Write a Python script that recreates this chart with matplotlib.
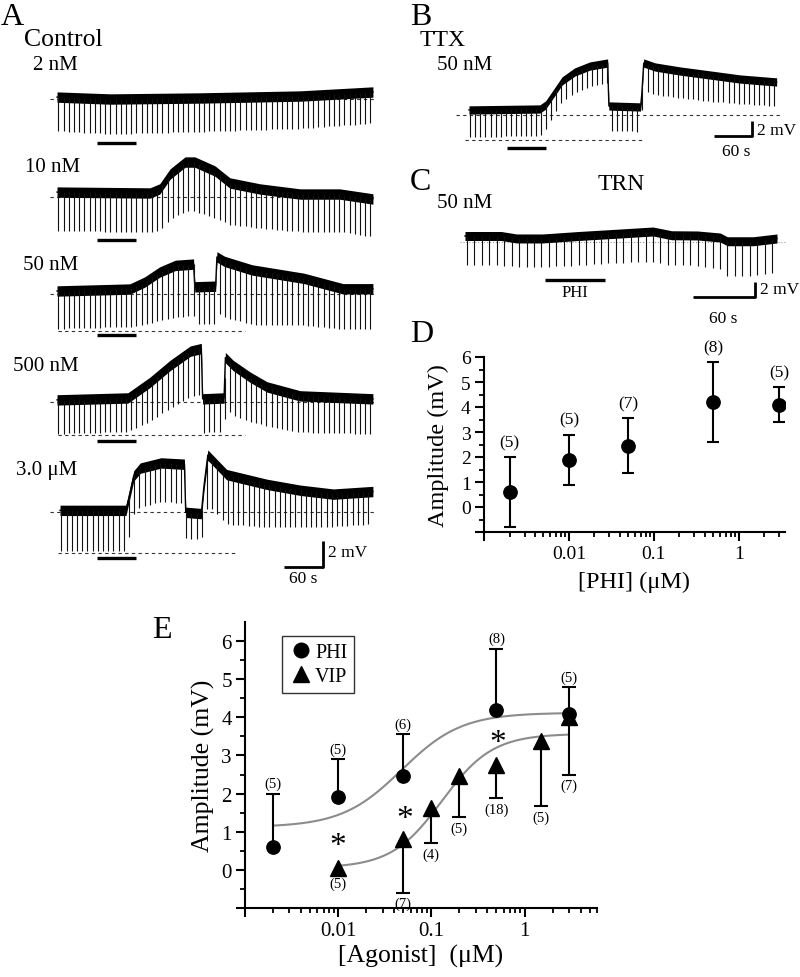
import numpy as np
import matplotlib
matplotlib.use("Agg")
import matplotlib.pyplot as plt
from matplotlib.lines import Line2D
from matplotlib.ticker import FixedLocator, LogLocator, NullFormatter

plt.rcParams['font.family'] = ['Liberation Serif', 'DejaVu Serif']

# ==========================
# 1. values
# ==========================

# A: control traces -> time (s), level above rest (mV), pulse depth (mV)
t_2nm = [0, 82, 220, 374, 486]
v_2nm = [0.15, 0.0, 0.08, 0.23, 0.54]
d_2nm = [2.6, 2.7, 2.6, 2.5, 2.4]

t_10nm = [0, 143, 158, 174, 197, 212, 243, 266, 312, 374, 435, 486]
v_10nm = [0.38, 0.31, 0.62, 1.77, 2.69, 2.69, 2.0, 1.08, 0.62, 0.23, 0.23, -0.15]
d_10nm = [3.0, 3.0, 3.2, 3.5, 3.8, 3.8, 3.6, 3.2, 3.0, 2.9, 2.9, 2.9]

t_50nm = [0, 112, 135, 158, 182, 210, 212, 244, 246, 258, 300, 380, 440, 486]
v_50nm = [0.23, 0.38, 0.92, 1.69, 2.2, 2.3, 0.55, 0.6, 2.85, 2.5, 1.85, 1.2, 0.4, 0.4]
d_50nm = [2.9, 2.9, 3.3, 3.7, 4.0, 4.0, 2.9, 2.9, 4.3, 4.3, 4.2, 3.6, 3.1, 3.1]

t_500nm = [0, 109, 143, 174, 205, 222, 224, 257, 259, 271, 297, 323, 374, 486]
v_500nm = [0.15, 0.3, 1.5, 2.8, 3.9, 4.1, 0.23, 0.3, 3.4, 2.8, 1.9, 1.15, 0.46, 0.23]
d_500nm = [2.6, 2.6, 3.0, 3.3, 3.5, 3.5, 2.6, 2.6, 3.8, 3.8, 3.4, 3.0, 2.8, 2.7]

t_3um = [4.6, 106, 110, 118, 128, 160, 196, 198, 222, 226, 232, 261, 323, 374, 425, 486]
v_3um = [0.15, 0.15, 1.0, 2.8, 3.4, 3.8, 3.7, 0.0, -0.1, 2.0, 4.4, 2.9, 2.15, 1.7, 1.4, 1.6]
d_3um = [3.1, 3.1, 3.0, 3.0, 3.0, 3.0, 3.0, 2.0, 2.0, 3.0, 3.8, 3.8, 3.3, 2.8, 2.5, 2.5]

a_labels = ['2 nM', '10 nM', '50 nM', '500 nM', '3.0 μM']

# B: TTX, 50 nM
t_ttx = [0, 112, 121, 133, 147, 167, 191, 219, 221, 271, 273, 276, 294, 333, 381, 428, 486]
v_ttx = [0.67, 0.8, 1.33, 2.8, 4.53, 5.73, 6.53, 6.93, 1.2, 1.07, 2.8, 6.93, 6.4, 5.87, 5.33, 4.8, 4.4]
d_ttx = [3.6, 3.6, 3.4, 3.0, 2.8, 2.7, 2.7, 2.7, 3.3, 3.3, 3.5, 3.7, 3.7, 3.6, 3.5, 3.3, 3.2]

# C: TRN, 50 nM
t_trn = [0, 35, 50, 75, 110, 150, 182, 200, 225, 247, 254, 279, 302]
v_trn = [0.8, 0.8, 0.47, 0.47, 0.8, 1.13, 1.4, 0.9, 0.87, 0.6, 0.1, 0.1, 0.47]
d_trn = [3.9, 3.9, 3.8, 3.8, 3.9, 3.9, 4.0, 4.0, 4.0, 4.2, 4.6, 4.6, 4.5]

# drug application bars (s)
bar_a = [61, 122]
bar_ttx = [60, 121]
bar_trn = [77, 136]

# D / E: dose response
phi_x = [0.002, 0.01, 0.05, 0.5, 3.0]
phi_mean = [0.6, 1.9, 2.45, 4.2, 4.1]
phi_sem = [1.4, 1.0, 1.1, 1.6, 0.7]
phi_n_d = ['(5)', '(5)', '(7)', '(8)', '(5)']
phi_n_e = ['(5)', '(5)', '(6)', '(8)', '(5)']

vip_x = [0.01, 0.05, 0.1, 0.2, 0.5, 1.5, 3.0]
vip_mean = [0.05, 0.82, 1.63, 2.47, 2.74, 3.39, 4.0]
vip_sem = [0.0, 1.42, 0.92, 1.08, 0.85, 1.71, 1.5]
vip_n = ['(5)', '(7)', '(4)', '(5)', '(18)', '(5)', '(7)']

# Hill fits: bottom, top, EC50 (uM), slope
phi_fit = [1.12, 4.12, 0.048, 1.35]
vip_fit = [0.05, 3.57, 0.13, 1.6]

# significance marks
star_x = [0.01, 0.052, 0.51]
star_y = [0.84, 1.55, 3.53]

# ==========================
# 2. layout helpers (pixel boxes on an 800x978 canvas)
# ==========================

W, H = 800, 978
fig = plt.figure(figsize=(8, 9.78), dpi=100)


def box(l, t, r, b):
    return [l / W, 1 - b / H, (r - l) / W, (b - t) / H]


def ftext(x, y, s, size, ha='left', va='center'):
    fig.text(x / W, 1 - y / H, s, fontsize=size, ha=ha, va=va)


def draw_trace(ax, t, v, d, off, noise, period):
    t = np.asarray(t, float)
    v = np.asarray(v, float) + off
    ax.fill_between(t, v - noise, v + noise, color='black', lw=0, zorder=3)
    ax.plot(t, v, color='black', lw=1.0, zorder=3)
    pulses = np.arange(t[0] + 2, t[-1], period)
    top = np.interp(pulses, t, v)
    depth = np.interp(pulses, t, d)
    ax.vlines(pulses, top - depth, top, color='#111111', lw=0.8, zorder=3)


def scale_bar(ax, x_end, y0, dx, dy, tx, ty, sx, sy):
    ax.plot([x_end - dx, x_end, x_end], [y0, y0, y0 + dy],
            color='black', lw=2, solid_capstyle='butt', clip_on=False)
    ax.text(tx, ty, '2 mV', fontsize=12.5, va='center', ha='left')
    ax.text(sx, sy, '60 s', fontsize=12.5, va='center', ha='center')


# ==========================
# 3. panel A
# ==========================

axA = fig.add_axes(box(45, 60, 380, 590))
axA.set_xlim(-18.5, 496.9)
axA.set_ylim(-37.7, 3.08)
axA.axis('off')

a_traces = [(t_2nm, v_2nm, d_2nm), (t_10nm, v_10nm, d_10nm),
            (t_50nm, v_50nm, d_50nm), (t_500nm, v_500nm, d_500nm),
            (t_3um, v_3um, d_3um)]
a_offsets = [0, -7.54, -15.0, -23.3, -31.8]
a_bar_level = [-3.38, -3.3, -3.15, -3.0, -3.54]
a_floor = [None, None, -2.85, -2.54, -3.15]
a_floor_end = [None, None, 289, 289, 277]

for (t, v, d), off, bl, fl, fe in zip(a_traces, a_offsets, a_bar_level,
                                      a_floor, a_floor_end):
    axA.plot([-10.8, 489], [off, off], color='#333333', lw=0.8,
             dashes=(3, 3), zorder=1)
    if fl is not None:
        axA.plot([1.5, fe], [off + fl, off + fl], color='#333333', lw=0.8,
                 dashes=(3, 3), zorder=1)
    draw_trace(axA, t, v, d, off, 0.4, 8)
    axA.plot(bar_a, [off + bl, off + bl], color='black', lw=2.4,
             solid_capstyle='butt')

scale_bar(axA, 409.2, a_offsets[4] - 4.23, 60, 2,
          417, a_offsets[4] - 3.08, 378, a_offsets[4] - 5.08)

ftext(1, 25, 'A', 23, va='baseline')
ftext(24, 40, 'Control', 18.5)
for lab, x, y in zip(a_labels, [33, 25, 23, 13, 16], [66, 167, 266, 367, 471]):
    ftext(x, y, lab, 15)

# ==========================
# 4. panel B
# ==========================

axB = fig.add_axes(box(450, 50, 790, 160))
axB.set_xlim(-30.0, 507.1)
axB.set_ylim(-5.87, 8.8)
axB.axis('off')
axB.plot([-20.5, 494], [0, 0], color='#333333', lw=0.8, dashes=(3, 3), zorder=1)
axB.plot([-6.3, 278], [-3.33, -3.33], color='#333333', lw=0.8, dashes=(3, 3),
         zorder=1)
draw_trace(axB, t_ttx, v_ttx, d_ttx, 0, 0.55, 8)
axB.plot(bar_ttx, [-4.4, -4.4], color='black', lw=2.4, solid_capstyle='butt')
scale_bar(axB, 447, -2.8, 60, 2, 455, -1.95, 421.8, -4.8)

ftext(410, 25, 'B', 23, va='baseline')
ftext(420, 40, 'TTX', 17)
ftext(437, 66, '50 nM', 15)

# ==========================
# 5. panel C
# ==========================

axC = fig.add_axes(box(450, 210, 790, 330))
axC.set_xlim(-14.5, 314.6)
axC.set_ylim(-11.6, 4.4)
axC.axis('off')
axC.plot([-4.8, 310], [0, 0], color='#999999', lw=0.8, ls=':', zorder=1)
draw_trace(axC, t_trn, v_trn, d_trn, 0, 0.6, 7.2)
axC.plot(bar_trn, [-5.07, -5.07], color='black', lw=2.4, solid_capstyle='butt')
axC.text(np.mean(bar_trn), -6.6, 'PHI', fontsize=12, ha='center', va='center')
scale_bar(axC, 280.7, -7.33, 60, 2, 286, -6.3, 250, -10.1)

ftext(410, 190, 'C', 23, va='baseline')
ftext(621, 185, 'TRN', 17, ha='center')
ftext(437, 204, '50 nM', 15)

# ==========================
# 6. dose-response axes
# ==========================


def style_axes(ax, xmax, ymax, tick_size):
    ax.set_xscale('log')
    ax.set_xlim(0.001, xmax)
    ax.set_ylim(-1, ymax)
    for s in ['top', 'right']:
        ax.spines[s].set_visible(False)
    for s in ['left', 'bottom']:
        ax.spines[s].set_linewidth(1.5)
    ax.xaxis.set_major_locator(FixedLocator([0.001, 0.01, 0.1, 1]))
    ax.set_xticklabels(['', '0.01', '0.1', '1'])
    ax.xaxis.set_minor_locator(LogLocator(base=10, subs=np.arange(2, 10)))
    ax.xaxis.set_minor_formatter(NullFormatter())
    ax.set_yticks(range(-1, 7))
    ax.set_yticklabels([''] + [str(i) for i in range(0, 7)])
    ax.yaxis.set_minor_locator(FixedLocator(np.arange(-0.5, ymax, 1.0)))
    ax.tick_params(which='major', direction='out', length=6.5, width=1.5,
                   labelsize=tick_size, pad=3)
    ax.tick_params(which='minor', direction='out', length=3.5, width=1.3)


# ---- D
axD = fig.add_axes(box(484, 358, 785, 533))
style_axes(axD, 3.5, 6, 14)
axD.errorbar(phi_x, phi_mean, yerr=phi_sem, fmt='o', color='black', ms=9.6,
             capsize=4.3, elinewidth=1.5, capthick=1.5, zorder=3)
for x, y, e, n in zip(phi_x, phi_mean, phi_sem, phi_n_d):
    axD.annotate(n, (x, y + e), xytext=(0, 15), textcoords='offset pixels',
                 ha='center', va='center', fontsize=12.5)
axD.set_ylabel('Amplitude (mV)', fontsize=17.5)
axD.set_xlabel('[PHI] (μM)', fontsize=17.5)
axD.yaxis.set_label_coords(-0.115, 0.5)
axD.xaxis.set_label_coords(0.5, -0.22)
ftext(410, 342, 'D', 23, va='baseline')

# ---- E
axE = fig.add_axes(box(245, 623, 597, 909))
style_axes(axE, 6, 6.5, 15)


def hill(x, p):
    b, t, ec, n = p
    return b + (t - b) / (1 + (ec / x) ** n)


xf = np.logspace(np.log10(phi_x[0]), np.log10(phi_x[-1]), 200)
axE.plot(xf, hill(xf, phi_fit), color='#8c8c8c', lw=1.5, zorder=1)
xf = np.logspace(np.log10(vip_x[0]), np.log10(vip_x[-1]), 200)
axE.plot(xf, hill(xf, vip_fit), color='#8c8c8c', lw=1.5, zorder=1)

px, pm, ps = map(np.asarray, (phi_x, phi_mean, phi_sem))
vx, vm, vs = map(np.asarray, (vip_x, vip_mean, vip_sem))

axE.vlines(px, pm, pm + ps, color='black', lw=1.5, zorder=2)
axE.plot(px, pm + ps, ls='none', marker='_', ms=9.4, mew=1.5, color='black')
keep = vs > 0
axE.vlines(vx[keep], vm[keep] - vs[keep], vm[keep], color='black', lw=1.5,
           zorder=2)
axE.plot(vx[keep], vm[keep] - vs[keep], ls='none', marker='_', ms=9.4,
         mew=1.5, color='black')

axE.plot(vx, vm, ls='none', marker='^', ms=11, color='black', zorder=3)
axE.plot(px, pm, ls='none', marker='o', ms=9.6, color='black', zorder=4)

for x, y, e, n in zip(px, pm, ps, phi_n_e):
    axE.annotate(n, (x, y + e), xytext=(0, 10), textcoords='offset pixels',
                 ha='center', va='center', fontsize=10.5)
for x, y, e, n in zip(vx, vm, vs, vip_n):
    dy = 15 if e == 0 else 11
    axE.annotate(n, (x, y - e), xytext=(0, -dy), textcoords='offset pixels',
                 ha='center', va='center', fontsize=10.5, annotation_clip=False)

for x, y in zip(star_x, star_y):
    axE.annotate('*', (x, y), xytext=(0, -16), textcoords='offset pixels',
                 ha='center', va='baseline', fontsize=24)

handles = [Line2D([], [], ls='none', marker='o', ms=10.5, color='black'),
           Line2D([], [], ls='none', marker='^', ms=11, color='black')]
leg = axE.legend(handles, ['PHI', 'VIP'], loc='upper left',
                 bbox_to_anchor=(0.105, 0.951), borderaxespad=0,
                 fontsize=14.5, frameon=True, fancybox=False,
                 handletextpad=0.1, handlelength=1.2, borderpad=0.35,
                 labelspacing=0.25)
leg.get_frame().set_edgecolor('black')
leg.get_frame().set_linewidth(1.0)

axE.set_ylabel('Amplitude (mV)', fontsize=18.5)
axE.set_xlabel('[Agonist]  (μM)', fontsize=18.5)
axE.yaxis.set_label_coords(-0.085, 0.5)
axE.xaxis.set_label_coords(0.5, -0.125)
ftext(152, 638, 'E', 23, va='baseline')

plt.savefig('out.png', dpi=100)
